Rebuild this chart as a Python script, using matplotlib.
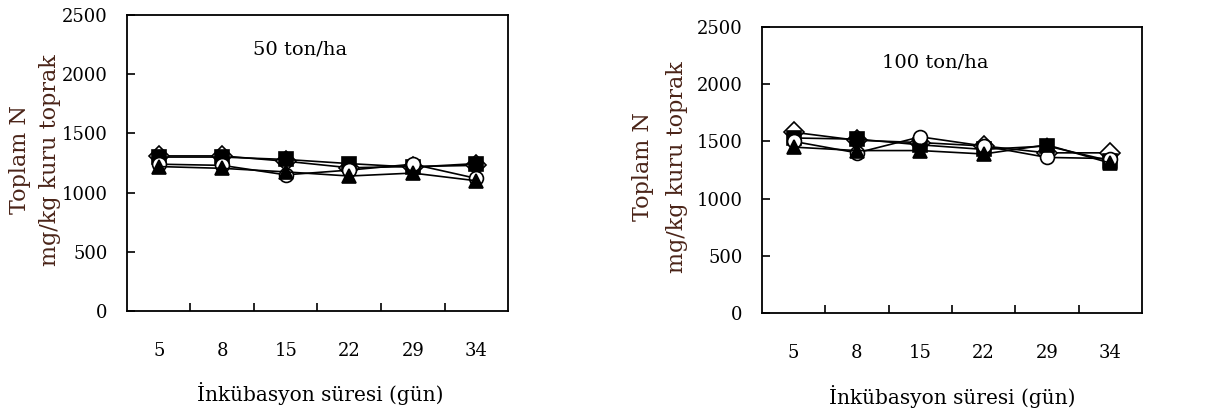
import numpy as np
import matplotlib
matplotlib.use("Agg")
import matplotlib.pyplot as plt

# incubation days (categories)
days = ["5", "8", "15", "22", "29", "34"]
y_ticks = [0, 500, 1000, 1500, 2000, 2500]

# 50 ton/ha
left_diamond = [1310, 1310, 1265, 1210, 1220, 1230]
left_square = [1300, 1300, 1280, 1245, 1215, 1245]
left_circle = [1240, 1230, 1150, 1190, 1240, 1120]
left_triangle = [1220, 1205, 1175, 1140, 1165, 1100]

# 100 ton/ha
right_diamond = [1580, 1510, 1490, 1460, 1400, 1400]
right_square = [1530, 1520, 1470, 1430, 1460, 1330]
right_circle = [1500, 1400, 1540, 1460, 1360, 1350]
right_triangle = [1450, 1420, 1420, 1390, 1470, 1310]

plt.rcParams['font.family'] = ['DejaVu Serif']

fig = plt.figure(figsize=(12.23, 4.11), dpi=100)
ax1 = fig.add_axes([0.1038, 0.2433, 0.3116, 0.7202])
ax2 = fig.add_axes([0.6230, 0.2384, 0.3108, 0.6959])

label_color = '#4a2418'


def draw_panel(ax, series, title, title_xy):
    x = np.arange(len(days))
    styles = [
        ('D', 'white'),
        ('s', 'black'),
        ('o', 'white'),
        ('^', 'black'),
    ]
    for vals, (mk, fc) in zip(series, styles):
        ax.plot(x, vals, color='black', lw=1.2, marker=mk, markersize=10,
                markerfacecolor=fc, markeredgecolor='black', markeredgewidth=1.2)
    ax.set_xlim(-0.5, len(days) - 0.5)
    ax.set_ylim(0, 2500)
    ax.set_yticks(y_ticks)
    ax.set_yticklabels([str(v) for v in y_ticks], fontsize=13)
    ax.set_xticks(x)
    ax.set_xticklabels(days, fontsize=13)
    ax.set_xticks(np.arange(0.5, len(days) - 1, 1.0), minor=True)
    ax.tick_params(axis='x', which='major', length=0, pad=22)
    ax.tick_params(axis='x', which='minor', direction='in', length=6, width=1.2)
    ax.tick_params(axis='y', direction='in', length=6, width=1.2, pad=14)
    for sp in ax.spines.values():
        sp.set_linewidth(1.3)
    ax.text(title_xy[0], title_xy[1], title, transform=ax.transAxes,
            ha='center', va='center', fontsize=14)


draw_panel(ax1, [left_diamond, left_square, left_circle, left_triangle],
           "50 ton/ha", (0.455, 0.885))
draw_panel(ax2, [right_diamond, right_square, right_circle, right_triangle],
           "100 ton/ha", (0.455, 0.875))

# y labels (two lines each)
fig.text(20 / 1223, 1 - 160 / 411, "Toplam N", rotation=90, ha='center',
         va='center', fontsize=16, color=label_color)
fig.text(50 / 1223, 1 - 160 / 411, "mg/kg kuru toprak", rotation=90, ha='center',
         va='center', fontsize=16, color=label_color)
fig.text(643 / 1223, 1 - 167 / 411, "Toplam N", rotation=90, ha='center',
         va='center', fontsize=16, color=label_color)
fig.text(677 / 1223, 1 - 167 / 411, "mg/kg kuru toprak", rotation=90, ha='center',
         va='center', fontsize=16, color=label_color)

# x labels
fig.text(320 / 1223, 1 - 393 / 411, "İnkübasyon süresi (gün)", ha='center',
         va='center', fontsize=14.5)
fig.text(952 / 1223, 1 - 396 / 411, "İnkübasyon süresi (gün)", ha='center',
         va='center', fontsize=14.5)

fig.savefig("out.png", dpi=100)
